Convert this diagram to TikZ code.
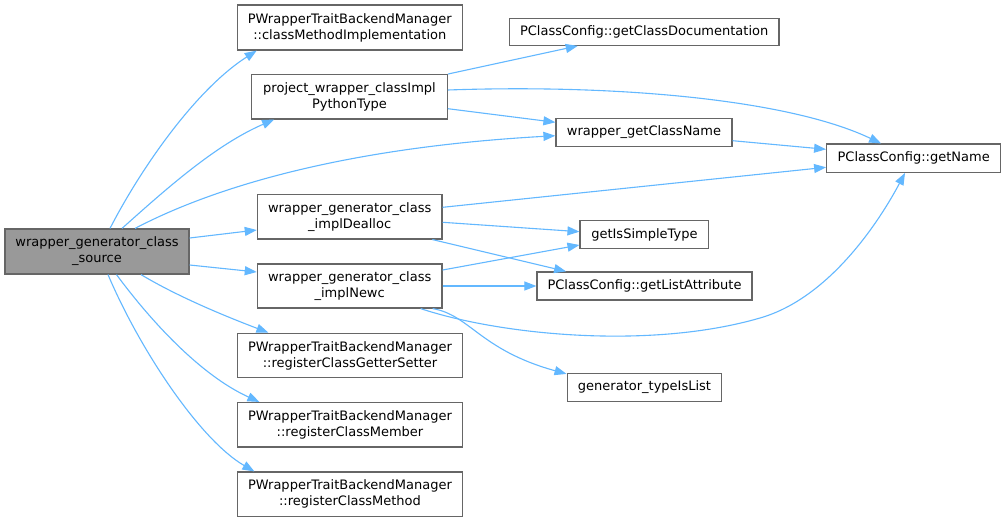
\documentclass[tikz,border=0pt]{standalone}
\usepackage{fontspec}
\setmainfont{DejaVu Sans}
\usetikzlibrary{arrows.meta}
\definecolor{edgeblue}{HTML}{63B8FF}
\definecolor{boxgray}{HTML}{666666}
\definecolor{mainfill}{HTML}{999999}
\begin{document}
\begin{tikzpicture}[x=1pt,y=-1pt,
  fn/.style={draw=boxgray, line width=1.2pt, fill=white, inner sep=0pt, align=center,
             font=\fontsize{13}{16}\selectfont},
  ed/.style={draw=edgeblue, line width=1.1pt, -{Triangle[length=12pt,width=9pt]}},
]
\useasboundingbox[fill=white] (0,0) rectangle (1006,522);

\node[fn, fill=mainfill, minimum width=184pt, minimum height=45pt] (main) at (97,251.5) {wrapper\_generator\_class\\\_source};
\node[fn, minimum width=225pt, minimum height=45pt] (cmi) at (349.8,27.5) {PWrapperTraitBackendManager\\::classMethodImplementation};
\node[fn, minimum width=195.6pt, minimum height=44.3pt] (pw) at (349.5,96.8) {project\_wrapper\_classImpl\\PythonType};
\node[fn, minimum width=184.7pt, minimum height=44.3pt] (dealloc) at (349.7,216.8) {wrapper\_generator\_class\\\_implDealloc};
\node[fn, minimum width=184.7pt, minimum height=44pt] (newc) at (349.7,286) {wrapper\_generator\_class\\\_implNewc};
\node[fn, minimum width=225pt, minimum height=44.5pt] (gs) at (350,355.5) {PWrapperTraitBackendManager\\::registerClassGetterSetter};
\node[fn, minimum width=225pt, minimum height=44.5pt] (mem) at (350,424.8) {PWrapperTraitBackendManager\\::registerClassMember};
\node[fn, minimum width=225pt, minimum height=44.5pt] (meth) at (350,494.3) {PWrapperTraitBackendManager\\::registerClassMethod};
\node[fn, minimum width=269.7pt, minimum height=27pt] (gcd) at (644.2,31.8) {PClassConfig::getClassDocumentation};
\node[fn, minimum width=176pt, minimum height=28.4pt] (wgc) at (644,132.5) {wrapper\_getClassName};
\node[fn, minimum width=174pt, minimum height=28.3pt] (gn) at (913.7,158.2) {PClassConfig::getName};
\node[fn, minimum width=128.7pt, minimum height=27.6pt] (gis) at (644.4,234.5) {getIsSimpleType};
\node[fn, minimum width=215pt, minimum height=28pt] (gla) at (644.5,286) {PClassConfig::getListAttribute};
\node[fn, minimum width=154.7pt, minimum height=28pt] (tl) at (644.5,387.5) {generator\_typeIsList};

% from main
\draw[ed] ([xshift=13pt]main.north) .. controls (140,170) and (195,90) .. ([xshift=20pt]cmi.south west);
\draw[ed] ([xshift=25pt]main.north) .. controls (165,190) and (215,145) .. ([xshift=23pt]pw.south west);
\draw[ed] ([xshift=38pt]main.north) .. controls (180,205) and (300,150) .. ([yshift=-3.2pt]wgc.west);
\draw[ed] ([yshift=13.5pt]main.east) -- ([yshift=-13.2pt]dealloc.west);
\draw[ed] ([yshift=-13.5pt]main.east) -- ([yshift=14pt]newc.west);
\draw[ed] ([xshift=44pt]main.south) .. controls (180,298) and (230,318) .. ([xshift=31.5pt]gs.north west);
\draw[ed] ([xshift=19.5pt]main.south) .. controls (150,320) and (200,375) .. ([xshift=22.5pt]mem.north west);
\draw[ed] ([xshift=11pt]main.south) .. controls (140,350) and (200,440) .. ([xshift=17.5pt]meth.north west);

% from project_wrapper
\draw[ed] (pw.north east) -- ([xshift=69pt]gcd.south west);
\draw[ed] ([yshift=6.8pt]pw.east) .. controls (620,84) and (790,100) .. ([xshift=55pt]gn.north west);
\draw[ed] ([yshift=-11.9pt]pw.east) -- ([yshift=10.2pt]wgc.west);

% from wrapper_getClassName
\draw[ed] ([yshift=-8.2pt]wgc.east) -- ([yshift=8.9pt]gn.west);

% from implDealloc
\draw[ed] ([yshift=9.5pt]dealloc.east) -- ([yshift=-9.1pt]gn.west);
\draw[ed] ([yshift=-5.5pt]dealloc.east) -- ([yshift=2.8pt]gis.west);
\draw[ed] ([xshift=-10.3pt]dealloc.south east) -- ([xshift=29.7pt]gla.north west);

% from implNewc
\draw[ed] ([yshift=16pt]newc.east) -- ([yshift=-10.5pt]gis.west);
\draw[ed] (newc.east) -- (gla.west);
\draw[ed] ([xshift=-22pt]newc.south east) .. controls (500,335) and (650,350) .. (760,318) .. controls (830,298) and (880,220) .. ([xshift=-8.7pt]gn.south);
\draw[ed] ([xshift=-10pt]newc.south east) .. controls (470,315) and (480,350) .. ([yshift=-1pt]tl.north west);
\end{tikzpicture}
\end{document}
